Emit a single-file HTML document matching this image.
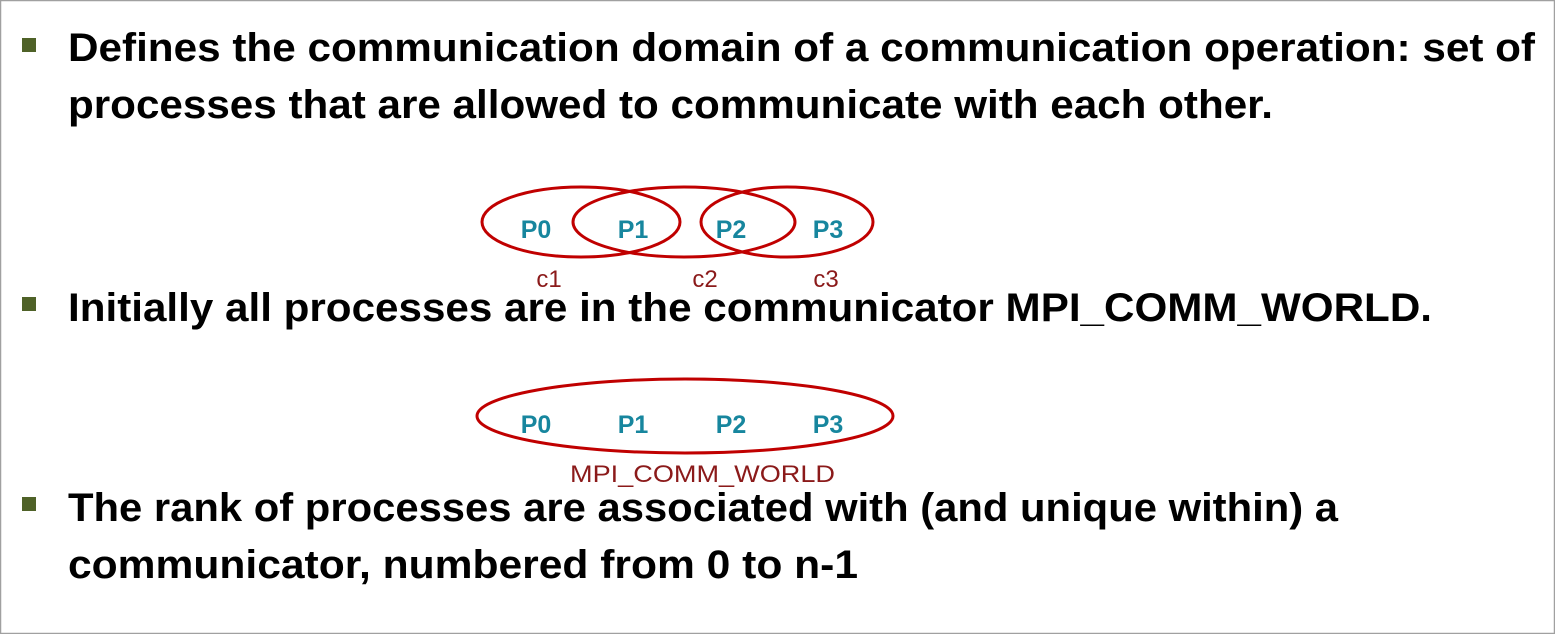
<!DOCTYPE html>
<html><head><meta charset="utf-8"><style>
html,body{margin:0;padding:0;background:#fff;}
svg{display:block;}
</style></head><body>
<svg width="1555" height="634" viewBox="0 0 1555 634" xmlns="http://www.w3.org/2000/svg">
<rect x="0.5" y="0.5" width="1554" height="633" fill="#fff" stroke="#a0a0a0" stroke-width="1.5"/>
<g fill="#4f6228">
<rect x="22" y="38" width="14" height="14"/>
<rect x="22" y="297" width="14" height="14"/>
<rect x="22" y="497" width="14" height="14"/>
</g>
<g font-family="Liberation Sans, sans-serif" font-weight="bold" font-size="40" fill="#000">
<text x="68" y="61" textLength="1467" lengthAdjust="spacingAndGlyphs">Defines the communication domain of a communication operation: set of</text>
<text x="68" y="118" textLength="1205" lengthAdjust="spacingAndGlyphs">processes that are allowed to communicate with each other.</text>
<text x="68" y="321" textLength="1364" lengthAdjust="spacingAndGlyphs">Initially all processes are in the communicator MPI_COMM_WORLD.</text>
<text x="68" y="521" textLength="1270" lengthAdjust="spacingAndGlyphs">The rank of processes are associated with (and unique within) a</text>
<text x="68" y="578" textLength="790" lengthAdjust="spacingAndGlyphs">communicator, numbered from 0 to n-1</text>
</g>
<g fill="none" stroke="#c00000" stroke-width="3">
<ellipse cx="581" cy="222" rx="99" ry="35"/>
<ellipse cx="684" cy="222" rx="111" ry="35"/>
<ellipse cx="787" cy="222" rx="86" ry="35"/>
<ellipse cx="685" cy="416" rx="208" ry="37"/>
</g>
<g font-family="Liberation Sans, sans-serif" font-weight="bold" font-size="25" fill="#17869e" text-anchor="middle">
<text x="536" y="238">P0</text><text x="633" y="238">P1</text><text x="731" y="238">P2</text><text x="828" y="238">P3</text>
<text x="536" y="433">P0</text><text x="633" y="433">P1</text><text x="731" y="433">P2</text><text x="828" y="433">P3</text>
</g>
<g font-family="Liberation Sans, sans-serif" font-size="24" fill="#8b1a1a" text-anchor="middle">
<text x="549" y="287">c1</text><text x="705" y="287">c2</text><text x="826" y="287">c3</text>
<text x="570" y="482" text-anchor="start" textLength="265" lengthAdjust="spacingAndGlyphs">MPI_COMM_WORLD</text>
</g>
</svg>
</body></html>
